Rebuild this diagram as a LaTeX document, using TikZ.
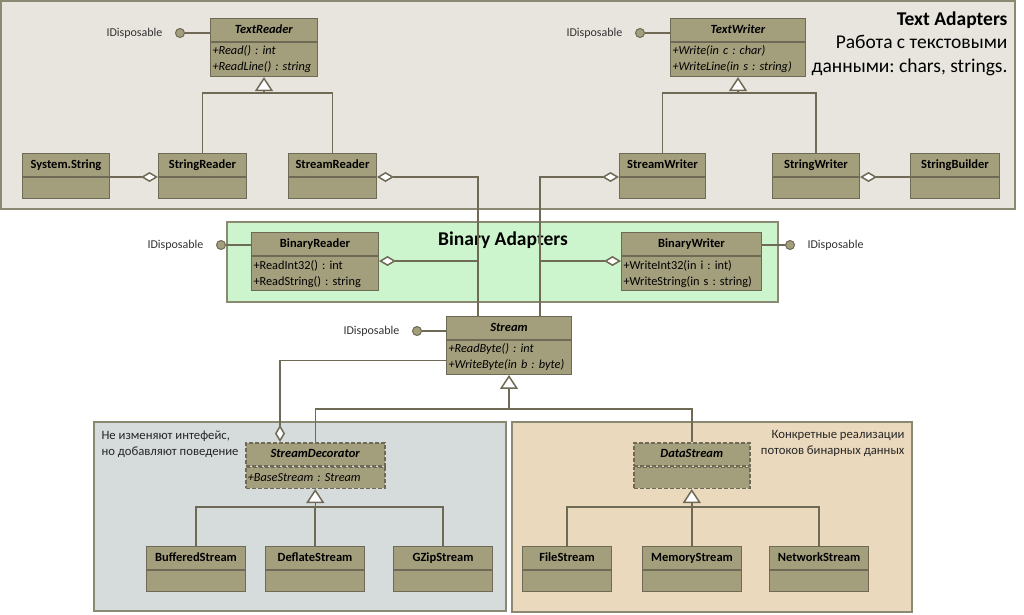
\documentclass[tikz,border=0pt]{standalone}
\usepackage{fontspec}
\setmainfont{Carlito}
\usetikzlibrary{arrows.meta, calc, positioning}

\definecolor{clsfill}{HTML}{A39E7C}
\definecolor{clsline}{HTML}{6E6A55}
\definecolor{txtbg}{HTML}{E7E5DE}
\definecolor{binbg}{HTML}{CDF5CD}
\definecolor{decbg}{HTML}{D6DCDC}
\definecolor{datbg}{HTML}{EBD9BD}
\definecolor{grpline}{HTML}{8C8972}

% classe uml: [stile] nome, x, y, larghezza, titolo, metodi
\newcommand{\umlclass}[7][]{%
  \pgfmathsetmacro{\cw}{#5-4}%
  \node[head, #1, minimum width=#5pt] (#2) at (#3,#4) {#6};
  \node[body, #1, text width=\cw pt] (#2b) at (#2.south west) {#7};
}

\begin{document}
\frenchspacing
\begin{tikzpicture}[x=1pt, y=-1pt,
    head/.style={draw=clsline, fill=clsfill, line width=1pt, anchor=north west,
      inner sep=0pt, minimum height=23pt, text height=9pt, text depth=2.5pt,
      font=\bfseries\fontsize{12.5}{14}\selectfont},
    body/.style={draw=clsline, fill=clsfill, line width=1pt, anchor=north west,
      inner xsep=2pt, inner ysep=3.5pt, minimum height=21pt, align=left,
      font=\fontsize{12.3}{16}\selectfont},
    abstr/.style={dash pattern=on 4pt off 2pt, line width=1.5pt},
    grp/.style={draw=grpline, line width=1.8pt},
    wire/.style={draw=clsline, line width=1.5pt},
    gen/.style={wire, -{Triangle[fill=white, length=14pt, width=18pt]}},
    aggr/.style={wire, -{Diamond[fill=white, length=17pt, width=10pt]}},
    iface/.style={circle, draw=clsline, fill=clsfill, line width=1pt,
      minimum size=9pt, inner sep=0pt},
    ilabel/.style={font=\fontsize{12}{14}\selectfont, text=black!80},
    note/.style={font=\fontsize{12.7}{16}\selectfont, text=black!85}
  ]
    % sfondo e bordi
    \fill[white] (0,0) rectangle (1024,614);
    \useasboundingbox (0,0) rectangle (1024,614);

    % gruppi
    \draw[grp, fill=txtbg] (1,1) rectangle (1015,209);
    \draw[grp, fill=binbg] (227,222) rectangle (778,302);
    \draw[grp, fill=decbg] (94,422) rectangle (506,611);
    \draw[grp, fill=datbg] (512,422) rectangle (912,612);

    % titoli dei gruppi
    \node[anchor=north east, align=right, font=\fontsize{19.5}{23.5}\selectfont] (ttxt) at (1011,8)
      {\textbf{Text Adapters}\\Работа с текстовыми\\данными: chars, strings.};
    \node[font=\bfseries\fontsize{19.5}{22}\selectfont] (tbin) at (503,240) {Binary Adapters};
    \node[note, anchor=north west, align=left] (tdec) at (98,427)
      {Не изменяют интефейс,\\но добавляют поведение};
    \node[note, anchor=north east, align=right] (tdat) at (908,427)
      {Конкретные реализации\\потоков бинарных данных};

    % classi testo
    \umlclass{treader}{210}{18}{107}{\textit{TextReader}}{\itshape +Read() : int\\+ReadLine() : string}
    \umlclass{twriter}{670}{18}{135}{\textit{TextWriter}}{\itshape +Write(in c : char)\\+WriteLine(in s : string)}
    \umlclass{sysstr}{22}{153}{87}{System.String}{}
    \umlclass{strreader}{158}{153}{88}{StringReader}{}
    \umlclass{stmreader}{288}{153}{88}{StreamReader}{}
    \umlclass{stmwriter}{619}{153}{86}{StreamWriter}{}
    \umlclass{strwriter}{772}{153}{87}{StringWriter}{}
    \umlclass{strbuild}{910}{153}{89}{StringBuilder}{}

    % classi binarie
    \umlclass{breader}{251}{232}{127}{BinaryReader}{+ReadInt32() : int\\+ReadString() : string}
    \umlclass{bwriter}{621}{232}{140}{BinaryWriter}{+WriteInt32(in i : int)\\+WriteString(in s : string)}
    \umlclass{stream}{446}{316}{125}{\textit{Stream}}{\itshape +ReadByte() : int\\+WriteByte(in b : byte)}

    % decoratori e sorgenti dati
    \umlclass[abstr]{sdeco}{245}{442}{139}{\textit{StreamDecorator}}{\itshape +BaseStream : Stream}
    \umlclass[abstr]{dstream}{633}{442}{116}{\textit{DataStream}}{}
    \umlclass{buffs}{146}{546}{99}{BufferedStream}{}
    \umlclass{defls}{265}{546}{99}{DeflateStream}{}
    \umlclass{gzips}{393}{546}{99}{GZipStream}{}
    \umlclass{files}{522}{546}{89}{FileStream}{}
    \umlclass{mems}{642}{546}{99}{MemoryStream}{}
    \umlclass{nets}{769}{546}{99}{NetworkStream}{}

    % interfacce IDisposable
    \node[iface] (itr) at (180,33) {};
    \node[ilabel, left=9pt of itr] (itrl) {IDisposable};
    \draw[wire] (itr) -- (itr -| treader.west);
    \node[iface] (itw) at (640,33) {};
    \node[ilabel, left=9pt of itw] (itwl) {IDisposable};
    \draw[wire] (itw) -- (itw -| twriter.west);
    \node[iface] (ibr) at (221,245) {};
    \node[ilabel, left=9pt of ibr] (ibrl) {IDisposable};
    \draw[wire] (ibr) -- (ibr -| breader.west);
    \node[iface] (ibw) at (790,245) {};
    \node[ilabel, right=9pt of ibw] (ibwl) {IDisposable};
    \draw[wire] (ibw) -- (ibw -| bwriter.east);
    \node[iface] (ist) at (417,331) {};
    \node[ilabel, left=9pt of ist] (istl) {IDisposable};
    \draw[wire] (ist) -- (ist -| stream.west);

    % ereditarieta
    \coordinate (jtr) at ($(treaderb.south)+(0,16)$);
    \draw[gen] (strreader.north) |- (jtr) -- (treaderb.south);
    \draw[wire] (stmreader.north) |- (jtr);
    \coordinate (jtw) at ($(twriterb.south)+(0,16)$);
    \draw[gen] (stmwriter.north) |- (jtw) -- (twriterb.south);
    \draw[wire] (strwriter.north) |- (jtw);
    \coordinate (jst) at ($(streamb.south)+(0,34)$);
    \draw[gen] (sdeco.north) |- (jst) -- (streamb.south);
    \draw[wire] (dstream.north) |- (jst);
    \coordinate (jsd) at ($(sdecob.south)+(0,18)$);
    \draw[gen] (buffs.north) |- (jsd) -- (sdecob.south);
    \draw[wire] (defls.north) |- (jsd);
    \draw[wire] (gzips.north) |- (jsd);
    \coordinate (jds) at ($(dstreamb.south)+(0,18)$);
    \draw[gen] (files.north) |- (jds) -- (dstreamb.south);
    \draw[wire] (mems.north) |- (jds);
    \draw[wire] (nets.north) |- (jds);

    % aggregazioni
    \coordinate (sin)  at ($(stream.north west)+(32,0)$);
    \coordinate (sout) at ($(stream.north west)+(94,0)$);
    \coordinate (jbr)  at ($(sin)+(0,-55)$);
    \coordinate (jbw)  at ($(sout)+(0,-55)$);
    \draw[aggr] (sysstr.south east) -- (strreader.south west);
    \draw[aggr] (strbuild.south west) -- (strwriter.south east);
    \draw[aggr] (sin) |- (stmreader.south east);
    \draw[aggr] (sout) |- (stmwriter.south west);
    \draw[aggr] (jbr) -- (jbr -| breaderb.east);
    \draw[aggr] (jbw) -- (jbw -| bwriterb.west);
    \draw[aggr] ($(streamb.west)+(0,3)$) -| ($(sdeco.north west)+(35,0)$);
\end{tikzpicture}
\end{document}
